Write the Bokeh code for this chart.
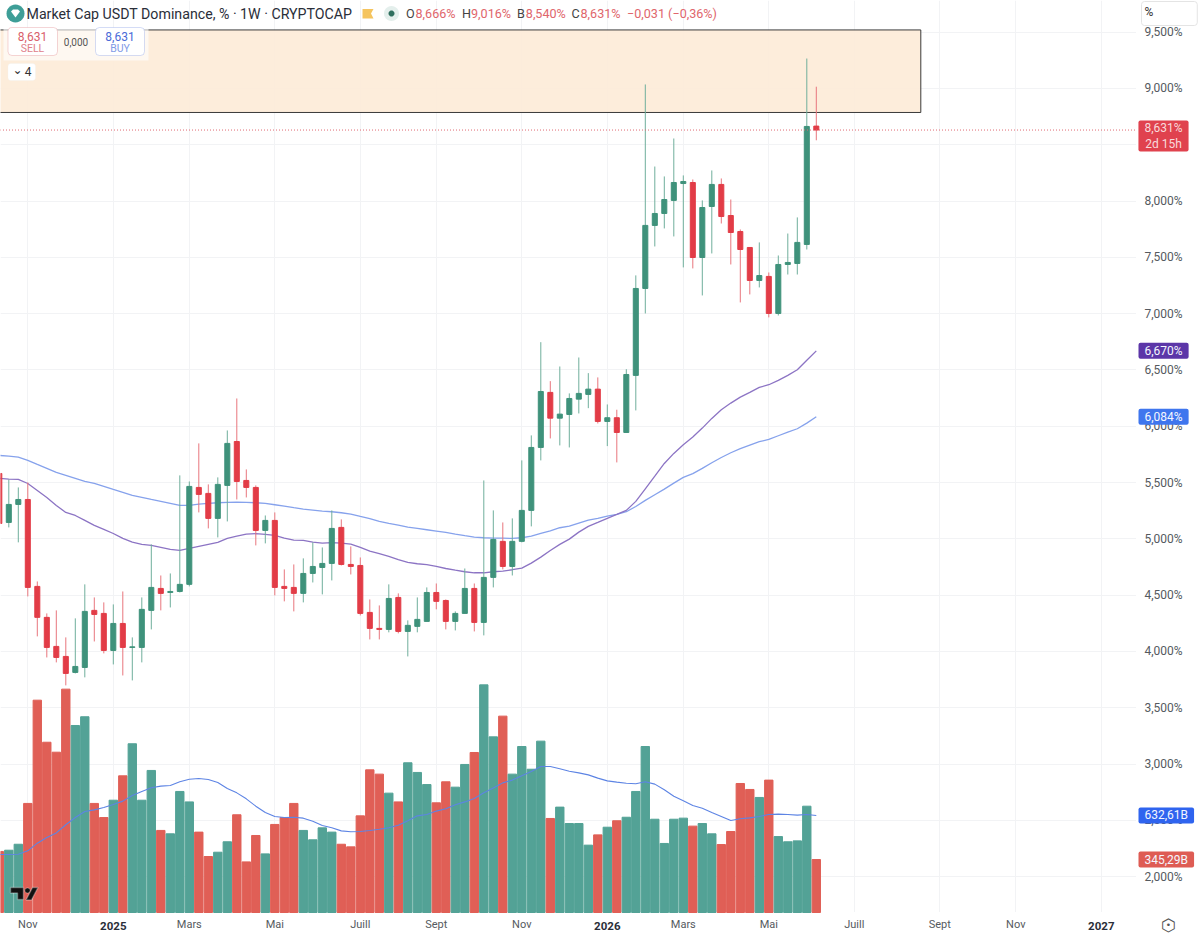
import math
from bokeh.plotting import figure
from bokeh.models import (ColumnDataSource, Range1d, FixedTicker, Label,
                          BoxAnnotation, PolyAnnotation)
from bokeh.embed import file_html
from bokeh.resources import INLINE

opens = [5.581,5.146,5.306,5.350,4.578,4.303,4.045,3.956,3.814,3.858,4.365,4.338,4.009,4.249,4.036,4.036,4.365,4.560,4.524,4.533,
         4.596,5.457,5.404,5.182,5.475,5.865,5.519,5.457,5.075,5.164,4.578,4.569,4.516,4.693,4.746,4.782,5.102,4.773,4.764,4.347,
         4.205,4.196,4.480,4.178,4.223,4.267,4.524,4.453,4.267,4.338,4.560,4.258,4.658,4.978,4.755,4.978,5.253,5.812,6.301,6.072,
         6.105,6.241,6.283,6.330,6.043,6.076,5.945,6.452,7.224,7.784,7.890,8.006,8.156,8.165,7.499,7.952,8.148,7.872,7.730,7.588,
         7.295,7.331,7.002,7.437,7.446,7.615,8.666]
highs = [5.590,5.528,5.457,5.501,4.622,4.338,4.365,4.125,4.294,4.596,4.480,4.436,4.418,4.533,4.125,4.480,4.951,4.675,4.693,5.564,
         5.510,5.848,5.484,5.546,5.963,6.247,5.617,5.475,5.208,5.235,4.729,4.773,4.827,4.969,4.924,5.253,5.173,4.933,4.835,4.462,
         4.409,4.596,4.516,4.276,4.480,4.569,4.604,4.462,4.356,4.737,4.604,5.519,5.253,5.146,5.182,5.697,5.919,6.747,6.401,6.531,
         6.292,6.611,6.472,6.434,6.194,6.147,6.507,7.340,9.036,8.307,8.219,8.556,8.228,8.192,8.006,8.272,8.201,8.014,7.748,7.588,
         7.633,7.366,7.517,7.712,7.855,9.266,9.016]
lows = [5.111,5.102,4.969,4.489,4.134,3.947,3.903,3.699,3.805,3.770,4.089,3.983,3.885,3.787,3.743,3.903,4.196,4.365,4.391,4.524,
        4.578,5.235,5.093,5.013,5.155,5.350,5.368,4.942,4.960,4.498,4.445,4.356,4.436,4.613,4.507,4.631,4.764,4.684,4.320,4.107,
        4.107,4.170,4.161,3.956,4.170,4.267,4.374,4.196,4.187,4.338,4.178,4.143,4.569,4.729,4.675,4.969,5.111,5.697,5.892,5.830,
        5.812,6.114,6.161,6.025,5.824,5.679,5.945,6.141,7.002,7.597,7.757,7.686,7.411,7.402,7.162,7.535,7.801,7.437,7.100,7.171,
        7.233,6.967,6.984,7.348,7.348,7.570,8.540]
closes = [5.137,5.306,5.350,4.569,4.303,4.036,3.947,3.805,3.867,4.356,4.329,4.009,4.249,4.036,4.041,4.374,4.569,4.516,4.533,4.596,
          5.466,5.395,5.182,5.484,5.848,5.510,5.457,5.075,5.164,4.569,4.560,4.516,4.693,4.755,4.782,5.093,4.773,4.755,4.338,4.205,
          4.196,4.471,4.178,4.232,4.285,4.524,4.445,4.267,4.338,4.560,4.258,4.658,4.995,4.755,4.978,5.253,5.812,6.309,6.072,6.108,
          6.247,6.292,6.330,6.043,6.076,5.945,6.460,7.224,7.784,7.890,8.014,8.165,8.174,7.499,7.943,8.148,7.863,7.721,7.570,7.295,
          7.339,7.002,7.437,7.455,7.633,8.663,8.631]
ma_slow = [5.741,5.735,5.726,5.697,5.661,5.626,5.590,5.564,5.537,5.510,5.492,5.466,5.439,5.413,5.386,5.368,5.350,5.333,5.315,5.297,
           5.297,5.309,5.315,5.321,5.324,5.326,5.324,5.321,5.315,5.303,5.291,5.277,5.264,5.255,5.246,5.241,5.232,5.220,5.199,5.179,
           5.155,5.137,5.122,5.104,5.093,5.081,5.069,5.057,5.042,5.028,5.016,5.010,5.007,5.007,5.004,5.010,5.024,5.048,5.072,5.099,
           5.113,5.140,5.167,5.182,5.202,5.217,5.241,5.288,5.342,5.392,5.442,5.495,5.546,5.579,5.626,5.676,5.723,5.765,5.801,5.833,
           5.863,5.883,5.916,5.948,5.978,6.028,6.084]
ma_fast = [5.537,5.531,5.528,5.492,5.430,5.368,5.297,5.235,5.208,5.164,5.120,5.084,5.048,5.004,4.971,4.951,4.942,4.924,4.906,4.897,
           4.915,4.933,4.951,4.969,5.004,5.024,5.042,5.046,5.040,5.031,5.007,4.989,4.986,4.971,4.962,4.966,4.962,4.953,4.924,4.891,
           4.868,4.844,4.815,4.791,4.779,4.771,4.755,4.737,4.722,4.708,4.699,4.699,4.708,4.714,4.726,4.740,4.785,4.838,4.897,4.951,
           4.998,5.060,5.111,5.146,5.182,5.217,5.253,5.333,5.445,5.557,5.670,5.759,5.836,5.904,5.984,6.070,6.147,6.206,6.259,6.301,
           6.345,6.369,6.408,6.452,6.502,6.587,6.670]
volume = [398,406,445,711,1384,1110,1045,1456,1219,1276,711,619,732,891,1100,732,926,535,513,789,
          721,524,365,393,461,637,330,502,382,574,619,711,535,474,552,524,445,428,630,930,
          902,778,721,976,913,834,715,852,817,965,1043,1484,1145,1280,902,1082,934,1117,613,687,
          580,580,439,506,556,598,621,789,1082,608,450,608,615,563,580,513,443,528,841,802,
          750,863,495,461,467,693,345.29]
volume_ma = [378,378,380,402,452,489,519,572,619,658,669,684,704,726,763,789,813,824,828,852,
             869,874,867,847,808,780,741,693,652,626,619,621,615,595,567,552,532,526,528,535,
             543,552,569,598,630,639,661,676,702,721,743,780,811,845,863,891,919,952,952,937,
             921,910,897,876,858,850,843,839,852,837,800,758,728,698,680,652,626,600,611,617,
             626,639,641,639,635,639,632.61]
price_ticks = [2.0,2.5,3.0,3.5,4.0,4.5,5.0,5.5,6.0,6.5,7.0,7.5,8.0,8.5,9.0,9.5]
price_tick_labels = ["2,000%","2,500%","3,000%","3,500%","4,000%","4,500%","5,000%","5,500%",
                     "6,000%","6,500%","7,000%","7,500%","8,000%","8,500%","9,000%","9,500%"]
time_ticks = [3,12,20,29,38,46,55,64,72,81,90,99,107,116]
time_tick_labels = ["Nov","2025","Mars","Mai","Juill","Sept","Nov","2026","Mars","Mai","Juill","Sept","Nov","2027"]
year_labels = ("2025","2026","2027")
zone_top, zone_bottom, zone_end = 9.52, 8.787, 97.0
last_close, ma_fast_last, ma_slow_last = 8.631, 6.670, 6.084
vol_last, vol_ma_last = 345.29, 632.61

GREEN, RED = "#3F927B", "#E23C47"
WICK_G, WICK_R = "#6FAE9C", "#E8767D"
VOL_G, VOL_R = "#53A296", "#E05F56"
FONT = "Roboto"
FRAME_W, FRAME_H = 1200, 939
X0, X1, Y0, Y1 = 0.126, 126.442, 1.442, 9.7815
AXIS_X, PANE_BOTTOM = 119.705, 1.682
VOL_START, VOL_END = -176.0, 5945.0

idx = list(range(len(opens)))
up = [c >= o for o, c in zip(opens, closes)]
src = ColumnDataSource(dict(
    x=idx, open=opens, high=highs, low=lows, close=closes,
    top=[max(o, c) for o, c in zip(opens, closes)],
    bottom=[min(o, c) for o, c in zip(opens, closes)],
    color=[GREEN if u else RED for u in up],
    wick=[WICK_G if u else WICK_R for u in up],
    vol=volume, volcolor=[VOL_G if u else VOL_R for u in up],
    fast=ma_fast, slow=ma_slow, volma=volume_ma))

p = figure(frame_width=FRAME_W, frame_height=FRAME_H, output_backend="svg", toolbar_location=None,
           x_range=Range1d(X0, X1), y_range=Range1d(Y0, Y1),
           y_axis_location="right", min_border=0, outline_line_color=None,
           background_fill_color="white", border_fill_color="white")
p.extra_y_ranges = {"vol": Range1d(VOL_START, VOL_END)}

ax = p.yaxis[0]
ax.fixed_location = AXIS_X
ax.ticker = FixedTicker(ticks=price_ticks)
ax.major_label_overrides = dict(zip(price_ticks, price_tick_labels))
ax.major_label_text_font = FONT
ax.major_label_text_font_size = "12px"
ax.major_label_text_color = "#555a60"
ax.axis_line_color = None
ax.major_tick_line_color = None
ax.minor_tick_line_color = None
ax.major_tick_out = 0
ax.major_tick_in = 0
ax.major_label_standoff = 8

bx = p.xaxis[0]
bx.fixed_location = PANE_BOTTOM
bx.ticker = FixedTicker(ticks=time_ticks)
bx.major_label_overrides = {t: ("" if l in year_labels else l) for t, l in zip(time_ticks, time_tick_labels)}
bx.major_label_text_font = FONT
bx.major_label_text_font_size = "11px"
bx.major_label_text_color = "#555a60"
bx.axis_line_color = None
bx.major_tick_line_color = None
bx.minor_tick_line_color = None
bx.major_tick_out = 0
bx.major_tick_in = 0
bx.major_label_standoff = 6

for g in (p.xgrid[0], p.ygrid[0]):
    g.grid_line_color = "#f2f3f5"
    g.grid_line_width = 1

# keep the grid out of the scale strips
p.quad(left=[AXIS_X], right=[X1 + 1], top=[Y1 + 1], bottom=[Y0 - 1], color="white")
p.quad(left=[X0 - 1], right=[X1 + 1], top=[PANE_BOTTOM], bottom=[Y0 - 1], color="white")

p.quad(left=[-5], right=[zone_end], top=[zone_top], bottom=[zone_bottom],
       fill_color="#FDEBD8", fill_alpha=0.92, line_color="#3a3a3a", line_width=1)

p.vbar(x="x", width=0.88, top="vol", bottom=0, color="volcolor", source=src, y_range_name="vol")
p.line("x", "volma", color="#5D84E4", line_width=1.1, source=src, y_range_name="vol")
p.line("x", "slow", color="#86A2EC", line_width=1.3, source=src)
p.line("x", "fast", color="#8C74C4", line_width=1.3, source=src)
p.segment(x0="x", x1="x", y0="low", y1="high", color="wick", line_width=1, source=src)
p.vbar(x="x", width=0.53, top="top", bottom="bottom", fill_color="color", line_color="color",
       line_width=1, source=src)
p.segment(x0=[X0 - 1], x1=[AXIS_X], y0=[last_close], y1=[last_close], line_color="#E06A72",
          line_dash="1 2", line_width=1)


def px_x(v):
    return (v - X0) / (X1 - X0) * FRAME_W


def px_y(v):
    return (Y1 - v) / (Y1 - Y0) * FRAME_H


def px_vol(v):
    return (VOL_END - v) / (VOL_END - VOL_START) * FRAME_H


def box(l, t, r, b, fill, line=None, radius=0, alpha=1.0):
    p.add_layout(BoxAnnotation(left=l, right=r, top=t, bottom=b,
                               left_units="canvas", right_units="canvas", top_units="canvas", bottom_units="canvas",
                               fill_color=fill, fill_alpha=alpha, line_color=line, border_radius=radius))


def lab(text, x, y, size=12, color="#333", align="left", bold=False, font=FONT, **kw):
    p.add_layout(Label(text=text, x=x, y=y, x_units="canvas", y_units="canvas",
                       text_font=font, text_font_size=f"{size}px", text_color=color, text_align=align,
                       text_baseline="middle", text_font_style="bold" if bold else "normal", **kw))


def poly(pts, fill, line=None, width=1):
    p.add_layout(PolyAnnotation(xs=[a for a, _ in pts], ys=[b for _, b in pts],
                                xs_units="canvas", ys_units="canvas", fill_color=fill, fill_alpha=1,
                                line_color=line, line_width=width))


def ring(cx, cy, r, n=28, start=0.0):
    return [(cx + r * math.cos(start + 2 * math.pi * k / n), cy + r * math.sin(start + 2 * math.pi * k / n)) for k in range(n)]


# header
poly(ring(15, 13, 9), "#3E9E97")
poly([(10.5, 11), (12.5, 9), (17.5, 9), (19.5, 11), (15, 17)], "white")
lab("Market Cap USDT Dominance, % · 1W · CRYPTOCAP", 26, 13, size=14.2, color="#2a2e39")
poly([(362, 8.5), (373, 8.5), (370.5, 13), (373, 18), (362, 18)], "#F5C45E")
poly(ring(391, 13, 7.5), "#E4EFEC")
poly(ring(391, 13, 3), "#2F6F5E")
tx = [("O", 405.5, "#444"), ("8,666%", 415, "#E0666C"), ("H", 461.5, "#444"), ("9,016%", 470.5, "#E0666C"),
      ("B", 516.5, "#444"), ("8,540%", 525.3, "#E0666C"), ("C", 571, "#444"), ("8,631%", 580, "#E0666C"),
      ("−0,031 (−0,36%)", 626.5, "#E0666C")]
for t, x, c in tx:
    lab(t, x, 13, size=12.6, color=c)

# trade widget
box(3, 27, 148, 60, "#FFFFFF", None, 0, 0.6)
box(7.5, 27, 57, 55, "#FFFFFF", "#D9737B", 4)
box(95, 27, 144, 55, "#FFFFFF", "#6F8BE0", 4)
lab("8,631", 32, 35.5, size=12, color="#D9606A", align="center")
lab("SELL", 32, 47.5, size=10.5, color="#E0818A", align="center")
lab("0,000", 75.5, 41.5, size=10, color="#555", align="center")
lab("8,631", 119.5, 35.5, size=12, color="#4A6BD8", align="center")
lab("BUY", 119.5, 47.5, size=10.5, color="#7F9BE6", align="center")
box(7.5, 63, 35, 80, "#FFFFFF", "#EFEFEF", 3)
lab("⌄", 17, 69, size=12, color="#333", align="center", font="DejaVu Sans")
lab("4", 27.5, 71, size=12, color="#333", align="center")

# scale mode box
lab("%", 1141, 13, size=12, color="#333", background_fill_color="#FFFFFF", border_line_color="#E4E4E4",
    border_radius=3, padding=(3, 44, 3, 7))

# year ticks (bold)
for t, l in zip(time_ticks, time_tick_labels):
    if l in year_labels:
        lab(l, px_x(t), 925, size=11.5, color="#2a2e39", align="center", bold=True)

# tags on the axis
lab("8,631%\n2d 15h", 1163, 135.5, size=12, color="#F8DADC", align="center", background_fill_color="#E0424E",
    border_radius=2, padding=(6, 0))
for txt, y, fill in (("6,670%", px_y(ma_fast_last), "#5C36A8"),
                     ("6,084%", px_y(ma_slow_last), "#3F76EE"),
                     ("632,61B", px_vol(vol_ma_last), "#2F64EF"),
                     ("345,29B", px_vol(vol_last), "#DE5C54")):
    lab(txt, 1138, y, size=12, color="#F4F6FF", background_fill_color=fill, border_radius=2, padding=(6, 1))

# settings icon
lab("⬡", 1168, 924.5, size=17, color="#555", align="center", font="DejaVu Sans")
lab("•", 1168, 924.5, size=9, color="#555", align="center", font="DejaVu Sans")

# logo
poly([(10, 887), (23, 887), (23, 899), (17, 899), (17, 892.5), (10, 892.5)], "#111", "white", 1.5)
poly(ring(27, 890, 2.6, 14), "#111", "white", 1.0)
poly([(32, 887), (37.5, 887), (31, 899.5), (25.5, 899.5)], "#111", "white", 1.5)

open("out.html", "w").write(file_html(p, INLINE))
